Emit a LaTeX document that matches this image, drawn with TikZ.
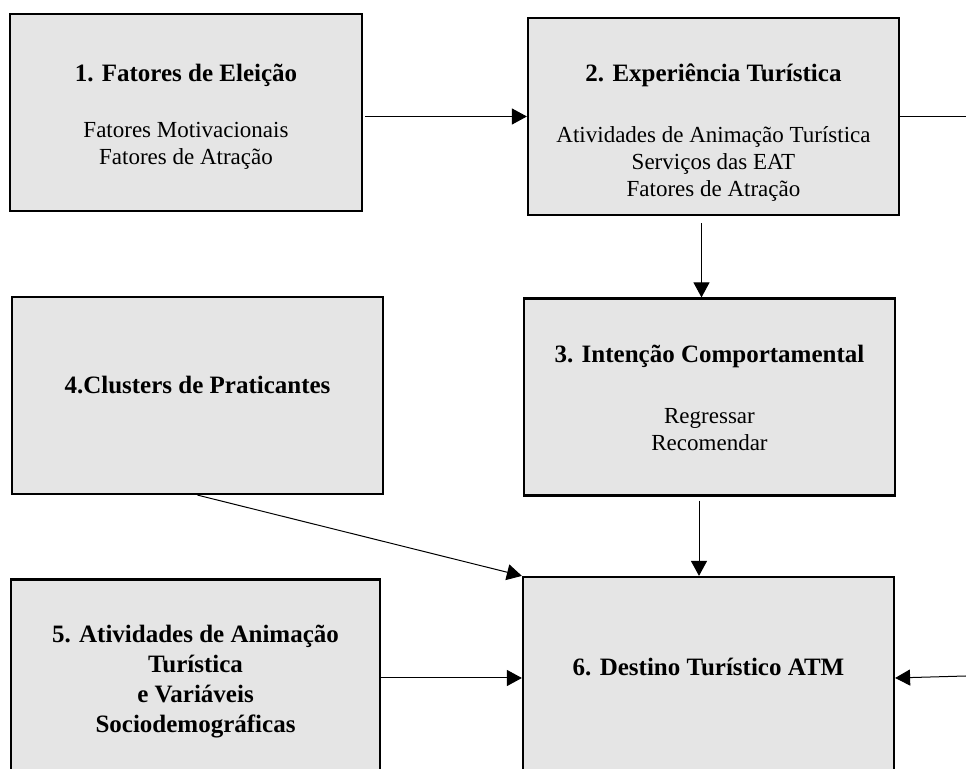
\documentclass[tikz,border=0pt]{standalone}
\usepackage{fontspec}
\setmainfont{Liberation Serif}
\usepackage{tikz}
\usetikzlibrary{arrows.meta}

\begin{document}
\begin{tikzpicture}[x=0.5pt, y=-0.5pt]
		\tikzstyle{caixa} = [draw, line width = 1.1pt, fill = black!10, shape = rectangle, minimum width = 185.5pt, minimum height = 98.5pt, inner sep = 0pt]
		\tikzstyle{titulo} = [font = \fontsize{12.5}{15}\selectfont\bfseries, align = center]
		\tikzstyle{corpo} = [font = \fontsize{11.5}{13.5}\selectfont, align = center]
		\tikzstyle{seta} = [line width = 0.5pt, -{Triangle[length = 7.5pt, width = 8pt]}]
		\clip (0, 0) rectangle (966, 769);
	% Caixas
		\node[caixa, minimum width = 176pt](b1) at (186, 112.5) {};
		\node[caixa](b2) at (713.5, 116.5) {};
		\node[caixa](b3) at (709.5, 397) {};
		\node[caixa](b4) at (197.5, 395.5) {};
		\node[caixa, minimum width = 184.5pt](b5) at (195.5, 678) {};
		\node[caixa, minimum height = 101pt](b6) at (708.5, 678) {};

	% Textos
		\node[titulo](t1) at (186, 75) {1. Fatores de Eleição};
		\node[corpo](l1) at (186, 146) {Fatores Motivacionais\\Fatores de Atração};
		\node[titulo](t2) at (713.5, 75) {2. Experiência Turística};
		\node[corpo](l2) at (713.5, 164) {Atividades de Animação Turística\\Serviços das EAT\\Fatores de Atração};
		\node[titulo](t3) at (709.5, 356) {3. Intenção Comportamental};
		\node[corpo](l3) at (709.5, 430) {Regressar\\Recomendar};
		\node[titulo](t4) at (197.5, 385) {4.Clusters de Praticantes};
		\node[titulo](t5) at (195.5, 682) {5. Atividades de Animação\\Turística\\e Variáveis\\Sociodemográficas};
		\node[titulo](t6) at (708.5, 667) {6. Destino Turístico ATM};

		\coordinate (saida) at (966, 116.5);
		\coordinate (entrada) at (966, 676);

	% Setas
		\draw[seta] ([xshift = 1pt]b1.east |- b2.west) -- (b2.west);
		\draw[line width = 0.5pt] (b2.east) -- (saida);
		\draw[seta] ([xshift = -6pt, yshift = -3.5pt]b2.south) -- ([xshift = -4pt]b3.north);
		\draw[seta] ([xshift = -5.25pt, yshift = -2pt]b3.south) -- ([xshift = -4.75pt]b6.north);
		\draw[seta] (b4.south) -- (b6.north west);
		\draw[seta] (b5.east) -- (b6.west);
		\draw[seta] (entrada) -- (b6.east);

	\end{tikzpicture}
\end{document}
